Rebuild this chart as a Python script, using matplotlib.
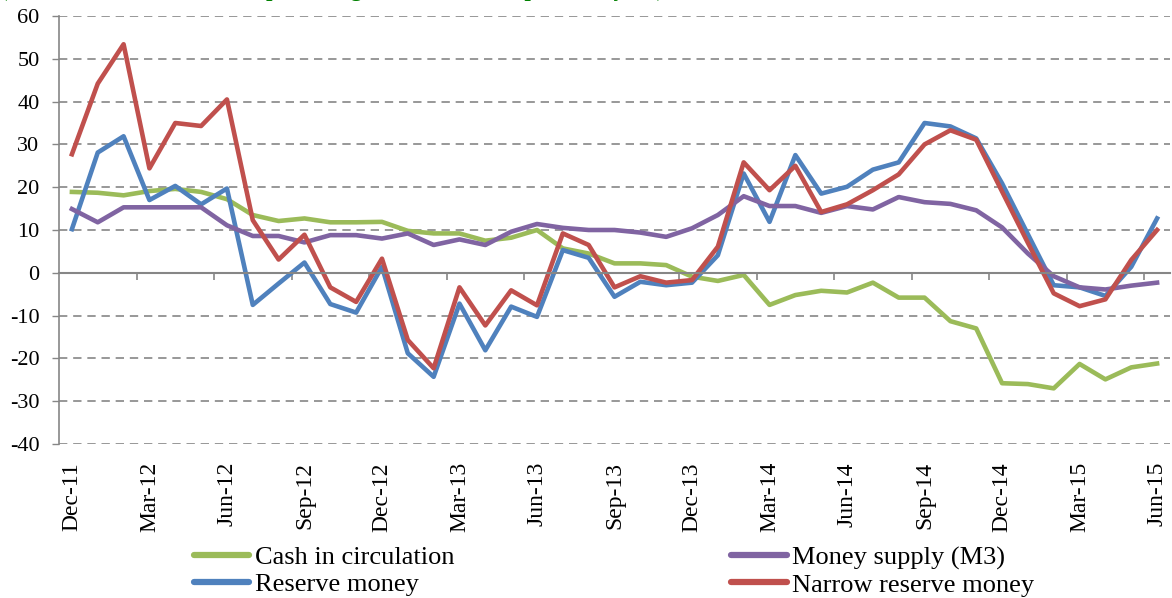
import numpy as np
import matplotlib.pyplot as plt

months = ["Dec-11", "Mar-12", "Jun-12", "Sep-12", "Dec-12", "Mar-13", "Jun-13", "Sep-13",
          "Dec-13", "Mar-14", "Jun-14", "Sep-14", "Dec-14", "Mar-15", "Jun-15"]

cash = [18.9, 18.7, 18.1, 19.1, 19.6, 18.9, 17.2, 13.5, 12.1, 12.7, 11.8, 11.8, 11.9, 9.8, 9.2,
        9.2, 7.5, 8.2, 10.0, 5.7, 4.5, 2.2, 2.2, 1.8, -0.9, -1.9, -0.5, -7.5, -5.2, -4.2,
        -4.6, -2.3, -5.8, -5.8, -11.3, -13.0, -25.8, -26.0, -27.0, -21.3, -24.9, -22.1, -21.2]
m3 = [14.9, 11.8, 15.3, 15.3, 15.3, 15.3, 11.1, 8.6, 8.6, 7.1, 8.8, 8.8, 8.0, 9.2, 6.5,
      7.8, 6.5, 9.6, 11.4, 10.5, 10.0, 10.0, 9.4, 8.4, 10.4, 13.5, 17.9, 15.6, 15.6, 14.0,
      15.6, 14.8, 17.7, 16.5, 16.1, 14.6, 10.6, 4.5, -0.8, -3.4, -3.9, -3.0, -2.3]
reserve = [10.2, 28.1, 31.9, 17.0, 20.3, 16.0, 19.7, -7.5, -2.5, 2.4, -7.3, -9.3, 1.4, -18.8, -24.3,
           -7.2, -18.1, -7.9, -10.3, 5.3, 3.5, -5.6, -2.1, -2.9, -2.3, 4.1, 23.2, 11.9, 27.5, 18.5,
           20.1, 24.1, 25.8, 35.0, 34.2, 31.4, 20.9, 9.0, -2.9, -3.4, -5.4, 1.4, 12.7]
narrow = [27.7, 44.2, 53.4, 24.4, 35.0, 34.3, 40.5, 12.3, 3.1, 8.9, -3.4, -6.8, 3.3, -15.7, -22.3,
          -3.4, -12.3, -4.1, -7.6, 9.2, 6.5, -3.4, -0.8, -2.3, -1.7, 6.1, 25.8, 19.3, 25.0, 14.2,
          16.0, 19.3, 23.0, 30.0, 33.3, 31.1, 19.0, 7.0, -4.8, -7.8, -6.2, 3.0, 10.0]

plt.rcParams['font.family'] = ['Liberation Serif', 'DejaVu Serif']
plt.rcParams['axes.unicode_minus'] = False
grey = "#868686"

fig = plt.figure(figsize=(11.72, 5.98), dpi=100)
ax = fig.add_axes([59 / 1172, 1 - 444 / 598, 1111 / 1172, 428 / 598])

x = np.arange(len(cash))
lw = 3.3
ax.plot(x, cash, color="#9BBB59", lw=lw, label="Cash in circulation", solid_joinstyle="round")
ax.plot(x, reserve, color="#4F81BD", lw=lw, label="Reserve money", solid_joinstyle="round")
ax.plot(x, m3, color="#8064A2", lw=lw, label="Money supply (M3)", solid_joinstyle="round", zorder=2.1)
ax.plot(x, narrow, color="#C0504D", lw=lw, label="Narrow reserve money", solid_joinstyle="round", zorder=2.2)

ax.set_xlim(-0.5, len(cash) - 0.5)
ax.set_ylim(-40, 60)
ax.set_yticks(np.arange(-40, 61, 10))
ax.yaxis.grid(True, color=grey, ls=(0, (5, 3.5)), lw=1.2)
ax.set_axisbelow(True)
for lbl in ax.get_yticklabels():
    lbl.set_fontsize(16)
ax.tick_params(axis="y", length=5, color=grey, width=1, pad=9)

ax.spines["top"].set_visible(False)
ax.spines["right"].set_visible(False)
ax.spines["left"].set_color(grey)
ax.spines["bottom"].set_color(grey)
ax.spines["left"].set_linewidth(1.2)
ax.spines["bottom"].set_linewidth(1.5)
ax.spines["bottom"].set_position(("data", 0))
ax.set_xticks(np.arange(2.5, len(cash) - 0.5, 3))
ax.set_xticklabels([])
ax.tick_params(axis="x", length=5, color=grey, width=1.2, direction="out")

sec = ax.secondary_xaxis(0.0)
sec.set_xticks(np.arange(0, len(cash), 3))
sec.set_xticklabels(months, rotation=90, fontsize=17)
sec.tick_params(length=0, pad=13)
sec.spines["bottom"].set_visible(False)

handles, labels = ax.get_legend_handles_labels()
fig.legend(handles, labels, ncol=2, loc="upper left", bbox_to_anchor=(194 / 1172, 1 - 546 / 598),
           frameon=False, fontsize=19, handlelength=2.1, handletextpad=0.2,
           columnspacing=10.5, labelspacing=0.12, borderaxespad=0, borderpad=0)
for h in fig.legends[0].get_lines():
    h.set_linewidth(4.5)
    h.set_solid_capstyle("round")

fig.text(0.0, 1.0 + 4 / 598, "(Annual rate of increase in percentage terms over the previous year),",
         color="#008000", fontsize=16.5, fontweight="bold", va="baseline")

fig.savefig("out.png", dpi=100)
